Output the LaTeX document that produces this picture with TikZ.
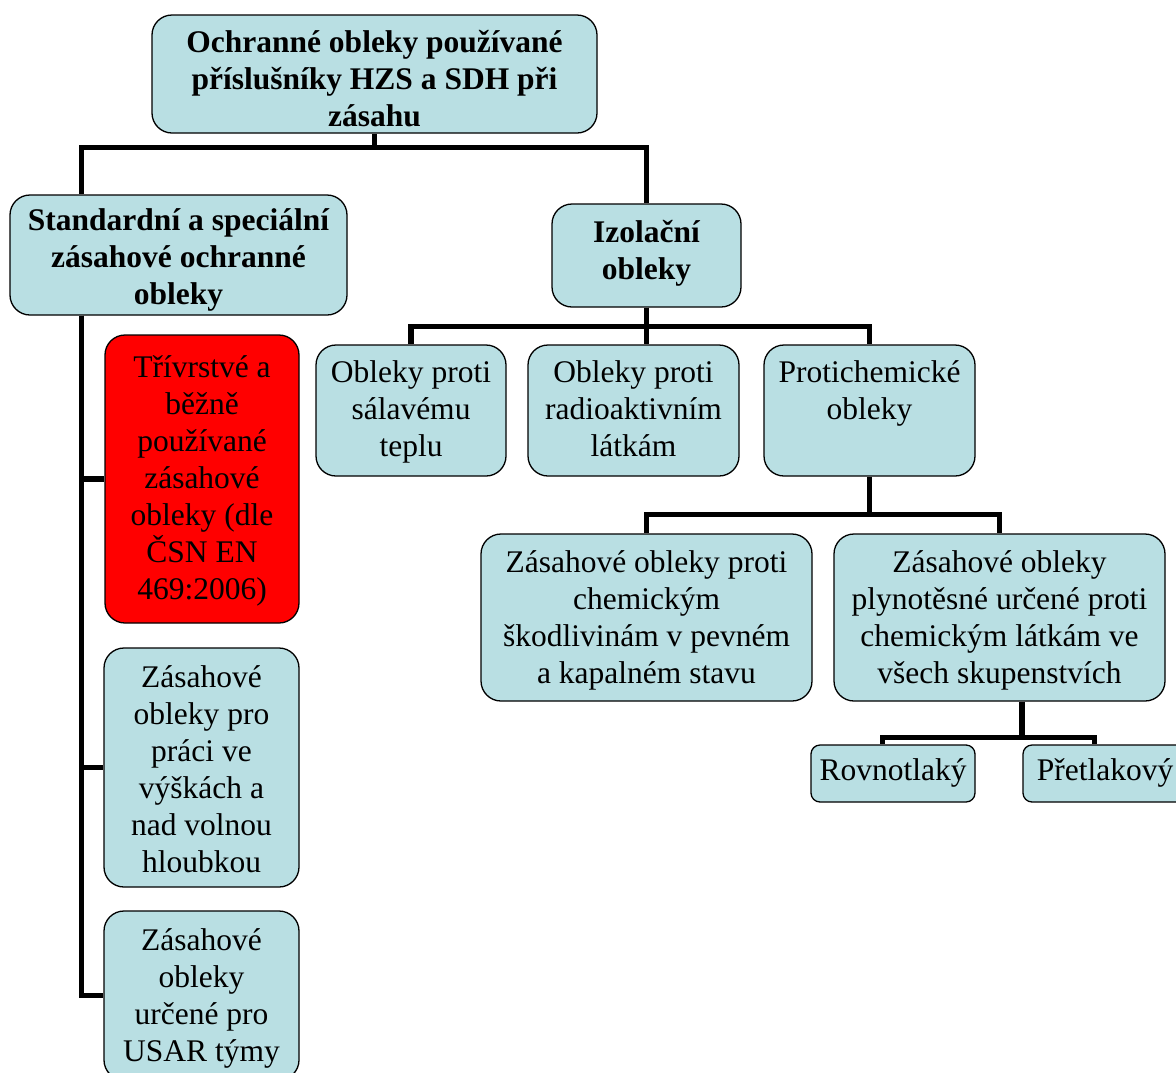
\documentclass[tikz,border=0pt]{standalone}
\usepackage{fontspec}
\setmainfont{Liberation Serif}
\usetikzlibrary{calc}
\definecolor{boxblue}{RGB}{185,223,227}
\definecolor{boxred}{RGB}{255,0,0}
\newcommand\tup[1]{\rule{0pt}{#1pt}}
\begin{document}
\begin{tikzpicture}[x=1pt,y=-1pt,
  box/.style={draw=black, line width=1.3pt, fill=boxblue, rounded corners=20pt,
    align=center, inner sep=0pt, font=\fontsize{31.5}{37}\selectfont},
  boldbox/.style={box, font=\fontsize{31.5}{37}\selectfont\bfseries},
  smallbox/.style={box, rounded corners=9pt},
  redbox/.style={box, fill=boxred},
  conn/.style={line width=5.5pt, draw=black}]
\useasboundingbox (0,0) rectangle (1176,1072);
\fill[white] (0,0) rectangle (1176,1072);

% nodes
\node[boldbox, minimum width=445pt, minimum height=118pt] (root) at (374.5,74)
  {\tup{31}Ochranné obleky používané\\příslušníky HZS a SDH při\\zásahu};
\node[boldbox, minimum width=337pt, minimum height=120pt] (std) at (178.5,255)
  {\tup{32}Standardní a speciální\\zásahové ochranné\\obleky};
\node[boldbox, minimum width=189pt, minimum height=103pt] (izo) at (646.5,255.5)
  {Izolační\\obleky\strut};
\node[box, minimum width=190pt, minimum height=131pt] (sal) at (411,410.5)
  {\tup{29}Obleky proti\\sálavému\\teplu\strut};
\node[box, minimum width=211pt, minimum height=131pt] (rad) at (633.5,410.5)
  {\tup{29}Obleky proti\\radioaktivním\\látkám\strut};
\node[box, minimum width=211pt, minimum height=131pt] (pro) at (869.5,410.5)
  {\tup{29}Protichemické\\obleky\\\strut};
\node[box, minimum width=331pt, minimum height=167pt] (chem) at (646.5,617.5)
  {\tup{32}Zásahové obleky proti\\chemickým\\škodlivinám v pevném\\a kapalném stavu\strut};
\node[box, minimum width=331pt, minimum height=167pt] (plyn) at (999.5,617.5)
  {\tup{32}Zásahové obleky\\plynotěsné určené proti\\chemickým látkám ve\\všech skupenstvích\strut};
\node[smallbox, minimum width=164pt, minimum height=57pt] (rov) at (893,773.5)
  {\strut Rovnotlaký};
\node[smallbox, minimum width=164pt, minimum height=57pt] (pre) at (1105,773.5)
  {\strut Přetlakový};
\node[redbox, minimum width=194pt, minimum height=288pt] (red) at (202,479)
  {\tup{30}Třívrstvé a\\běžně\\používané\\zásahové\\obleky (dle\\ČSN EN\\469:2006)\strut};
\node[box, minimum width=195pt, minimum height=239pt] (vys) at (201.5,767.5)
  {\tup{36}Zásahové\\obleky pro\\práci ve\\výškách a\\nad volnou\\hloubkou\strut};
\node[box, minimum width=195pt, minimum height=169pt] (usar) at (201.5,995.5)
  {\tup{32}Zásahové\\obleky\\určené pro\\USAR týmy\strut};

% connectors
\draw[conn] (root.south) -- ++(0,14) coordinate (rj) -| ([xshift=72pt]std.north west);
\draw[conn] (rj) -| (izo.north);
\draw[conn] (izo.south) -- ++(0,19) coordinate (ij) -| (sal.north);
\draw[conn] (ij) -| (pro.north);
\draw[conn] (izo.south) -- (izo.south |- rad.north);
\draw[conn] (pro.south) -- ++(0,38) coordinate (pj) -| (chem.north);
\draw[conn] (pj) -| (plyn.north);
\draw[conn] ([xshift=22.5pt]plyn.south) -- ++(0,36) coordinate (qj) -| ([xshift=-10.5pt]rov.north);
\draw[conn] (qj) -| ([xshift=-10.5pt]pre.north);
\draw[conn] ([xshift=72pt]std.south west) |- (red.west);
\draw[conn] ([xshift=72pt]std.south west) |- (vys.west);
\draw[conn] ([xshift=72pt]std.south west) |- (usar.west);
\end{tikzpicture}
\end{document}
